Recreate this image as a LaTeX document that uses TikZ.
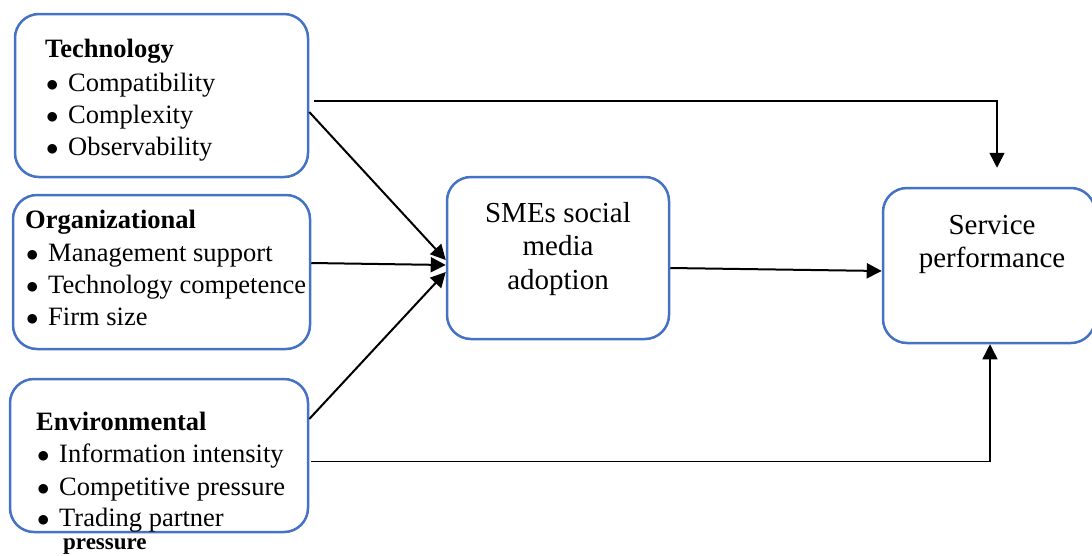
\documentclass[tikz,border=0pt]{standalone}
\usepackage{fontspec}
\setmainfont{Liberation Serif}
\usetikzlibrary{arrows.meta}
\definecolor{boxblue}{RGB}{68,114,196}
\tikzset{
  box/.style={draw=boxblue,line width=2.5pt,rounded corners=24pt,inner sep=0pt},
  item/.style={anchor=base west,inner sep=0pt,font=\fontsize{26.5}{32}\selectfont},
  head/.style={anchor=base west,inner sep=0pt,font=\bfseries\fontsize{26.5}{32}\selectfont},
  mid/.style={align=center,inner sep=0pt,font=\fontsize{29}{33.5}\selectfont},
  arr/.style={-{Triangle[length=15pt,width=15pt]},line width=2pt},
  thin arr/.style={arr,line width=1.5pt}
}
\newcommand{\bul}{\makebox[22pt][l]{$\bullet$}}

\begin{document}
\begin{tikzpicture}[x=1pt,y=-1pt]
\useasboundingbox (0,0) rectangle (1092,555);
\node[box,minimum width=293pt,minimum height=163pt] (tech) at (161.5,95.5) {};
\node[box,minimum width=297pt,minimum height=154pt] (org) at (161.5,272) {};
\node[box,minimum width=298pt,minimum height=153pt] (env) at (159,455.5) {};
\node[box,minimum width=222pt,minimum height=162pt] (smes) at (558,258) {};
\node[box,minimum width=212pt,minimum height=155pt] (serv) at (989,265.5) {};

\node[head] (techhd) at (45,57) {Technology};
\node[item] (tech1) at (46,91) {\bul Compatibility};
\node[item] (tech2) at (46,123) {\bul Complexity};
\node[item] (tech3) at (46,155) {\bul Observability};

\node[head] (orghd) at (25,228) {Organizational};
\node[item] (org1) at (26,261) {\bul Management support};
\node[item] (org2) at (26,293) {\bul Technology competence};
\node[item] (org3) at (26,325) {\bul Firm size};

\node[head] (envhd) at (36,430) {Environmental};
\node[item] (env1) at (37,462) {\bul Information intensity};
\node[item] (env2) at (37,495) {\bul Competitive pressure};
\node[item] (env3) at (37,526) {\bul Trading partner};
\node[anchor=base west,inner sep=0pt,font=\bfseries\fontsize{23}{28}\selectfont] (env4) at (63,549) {pressure};

\node[mid] (smestxt) at (558,249) {SMEs social\\media\\adoption};
\node[mid] (servtxt) at (992,244.5) {Service\\performance};

\draw[arr] ([yshift=-16.5pt]tech.east) -- ([yshift=-2pt]smes.west);
\draw[arr] ([yshift=9pt]org.east) -- ([yshift=-7pt]smes.west);
\draw[arr] ([yshift=36.5pt]env.east) -- ([yshift=-14pt]smes.west);
\draw[arr] ([yshift=-10pt]smes.east) -- ([yshift=-5.5pt]serv.west);
\draw[thin arr,shorten >=19pt] ([xshift=5pt,yshift=-5.5pt]tech.east) -| ([xshift=8pt]serv.north);
\draw[thin arr] ([xshift=2pt,yshift=-6pt]env.east) -| ([xshift=1pt]serv.south);
\end{tikzpicture}
\end{document}
